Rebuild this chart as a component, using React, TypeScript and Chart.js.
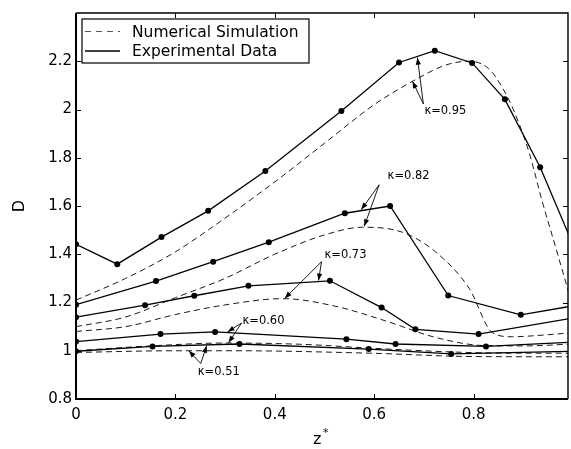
import React, { useEffect, useRef } from 'react';
import { Chart, registerables } from 'chart.js';

Chart.register(...registerables);

// ---- tick values ----
const xTicks = [0, 0.2, 0.4, 0.6, 0.8];
const yTicks = [0.8, 1, 1.2, 1.4, 1.6, 1.8, 2, 2.2];

// ---- experimental data (solid lines with dots) ----
const exp95X = [0, 0.083, 0.172, 0.266, 0.381, 0.534, 0.65, 0.722, 0.797, 0.863, 0.934, 1.0];
const exp95Y = [1.441, 1.359, 1.471, 1.58, 1.745, 1.994, 2.195, 2.244, 2.193, 2.042, 1.761, 1.44];

const exp82X = [0, 0.161, 0.276, 0.388, 0.541, 0.632, 0.749, 0.895, 1.0];
const exp82Y = [1.191, 1.289, 1.369, 1.45, 1.57, 1.6, 1.229, 1.149, 1.186];

const exp73X = [0, 0.139, 0.238, 0.347, 0.511, 0.615, 0.683, 0.81, 1.0];
const exp73Y = [1.139, 1.189, 1.228, 1.269, 1.29, 1.179, 1.089, 1.069, 1.136];

const exp60X = [0, 0.17, 0.28, 0.544, 0.643, 0.825, 1.0];
const exp60Y = [1.038, 1.069, 1.078, 1.048, 1.028, 1.018, 1.036];

const exp51X = [0, 0.154, 0.329, 0.589, 0.755, 1.0];
const exp51Y = [0.998, 1.018, 1.028, 1.007, 0.987, 0.998];

// ---- numerical simulation (dashed lines) ----
const num95X = [0, 0.1, 0.2, 0.3, 0.4, 0.5, 0.6, 0.68, 0.745, 0.79, 0.83, 0.858, 0.88, 0.912, 0.938, 0.965, 1.0];
const num95Y = [1.21, 1.3, 1.41, 1.55, 1.7, 1.86, 2.02, 2.12, 2.185, 2.2, 2.17, 2.09, 2.0, 1.82, 1.62, 1.43, 1.18];

const num82X = [0, 0.1, 0.2, 0.3, 0.4, 0.5, 0.577, 0.657, 0.724, 0.791, 0.838, 0.878, 0.94, 1.0];
const num82Y = [1.1, 1.14, 1.22, 1.3, 1.4, 1.48, 1.512, 1.491, 1.409, 1.259, 1.075, 1.058, 1.065, 1.075];

const num73X = [0, 0.1, 0.2, 0.3, 0.416, 0.523, 0.624, 0.724, 0.825, 0.9, 1.0];
const num73Y = [1.08, 1.1, 1.15, 1.19, 1.216, 1.184, 1.123, 1.055, 1.021, 1.02, 1.028];

const num60X = [0, 0.15, 0.3, 0.45, 0.6, 0.785, 0.9, 1.0];
const num60Y = [1.0, 1.02, 1.032, 1.027, 1.01, 0.993, 0.99, 0.99];

const num51X = [0, 0.2, 0.32, 0.59, 0.8, 1.0];
const num51Y = [0.993, 1.0, 1.0, 0.99, 0.976, 0.975];

// ---- annotations (data coordinates) ----
const annotLabels = ['κ=0.95', 'κ=0.82', 'κ=0.73', 'κ=0.60', 'κ=0.51'];
const annotTextPos = [[0.701, 1.994], [0.627, 1.724], [0.5, 1.397], [0.335, 1.123], [0.245, 0.91]];
const annotFrom = [[0.699, 2.023], [0.61, 1.688], [0.494, 1.369], [0.333, 1.115], [0.251, 0.947]];
const annotTips = [
  [[0.687, 2.215], [0.677, 2.117]],
  [[0.574, 1.585], [0.58, 1.516]],
  [[0.488, 1.291], [0.42, 1.217]],
  [[0.305, 1.078], [0.307, 1.033]],
  [[0.227, 1.0], [0.263, 1.021]],
];

const legendLabels = ['Numerical Simulation', 'Experimental Data'];

const FONT = 'DejaVu Sans';

const pts = (xs: number[], ys: number[]) => xs.map((x, i) => ({ x, y: ys[i] }));

const expDs = (xs: number[], ys: number[]) => ({
  data: pts(xs, ys),
  borderColor: '#000',
  backgroundColor: '#000',
  borderWidth: 1.3,
  pointRadius: 3,
  pointHoverRadius: 3,
  pointBorderWidth: 0,
  tension: 0,
  fill: false,
});

const numDs = (xs: number[], ys: number[]) => ({
  data: pts(xs, ys),
  borderColor: '#000',
  backgroundColor: '#000',
  borderWidth: 0.9,
  borderDash: [6, 4],
  pointRadius: 0,
  cubicInterpolationMode: 'monotone' as const,
  fill: false,
});

const overlay = {
  id: 'overlay',
  afterDatasetsDraw(chart: any) {
    const { ctx, chartArea: a, scales } = chart;
    const xs = scales.x;
    const ys = scales.y;
    ctx.save();
    ctx.strokeStyle = '#000';
    ctx.fillStyle = '#000';
    ctx.setLineDash([]);

    // frame
    ctx.lineWidth = 2;
    ctx.beginPath();
    ctx.moveTo(a.left, a.top);
    ctx.lineTo(a.left, a.bottom);
    ctx.lineTo(a.right, a.bottom);
    ctx.stroke();
    ctx.lineWidth = 1.4;
    ctx.beginPath();
    ctx.moveTo(a.left, a.top);
    ctx.lineTo(a.right, a.top);
    ctx.lineTo(a.right, a.bottom);
    ctx.stroke();

    // inward ticks
    ctx.lineWidth = 1;
    const tl = 5;
    ctx.beginPath();
    xTicks.forEach((v) => {
      const px = Math.round(xs.getPixelForValue(v)) + 0.5;
      ctx.moveTo(px, a.bottom);
      ctx.lineTo(px, a.bottom - tl);
      ctx.moveTo(px, a.top);
      ctx.lineTo(px, a.top + tl);
    });
    yTicks.forEach((v) => {
      const py = Math.round(ys.getPixelForValue(v)) + 0.5;
      ctx.moveTo(a.left, py);
      ctx.lineTo(a.left + tl, py);
      ctx.moveTo(a.right, py);
      ctx.lineTo(a.right - tl, py);
    });
    ctx.stroke();

    // annotations
    ctx.font = `11.5px "${FONT}"`;
    ctx.textAlign = 'left';
    ctx.textBaseline = 'middle';
    annotLabels.forEach((lab, i) => {
      const tx = xs.getPixelForValue(annotTextPos[i][0]);
      const ty = ys.getPixelForValue(annotTextPos[i][1]);
      ctx.fillText(lab, tx, ty);
      const fx = xs.getPixelForValue(annotFrom[i][0]);
      const fy = ys.getPixelForValue(annotFrom[i][1]);
      annotTips[i].forEach((tp) => {
        const px = xs.getPixelForValue(tp[0]);
        const py = ys.getPixelForValue(tp[1]);
        ctx.lineWidth = 0.9;
        ctx.beginPath();
        ctx.moveTo(fx, fy);
        ctx.lineTo(px, py);
        ctx.stroke();
        const ang = Math.atan2(py - fy, px - fx);
        const L = 7;
        const W = 2.6;
        const bx = px - L * Math.cos(ang);
        const by = py - L * Math.sin(ang);
        ctx.beginPath();
        ctx.moveTo(px, py);
        ctx.lineTo(bx - W * Math.sin(ang), by + W * Math.cos(ang));
        ctx.lineTo(bx + W * Math.sin(ang), by - W * Math.cos(ang));
        ctx.closePath();
        ctx.fill();
      });
    });

    // legend
    const lx = a.left + 6;
    const ly = a.top + 6;
    const lw = 227;
    const lh = 44;
    ctx.fillStyle = '#fff';
    ctx.fillRect(lx, ly, lw, lh);
    ctx.lineWidth = 1.2;
    ctx.strokeStyle = '#000';
    ctx.strokeRect(lx, ly, lw, lh);
    ctx.fillStyle = '#000';
    ctx.font = `15.5px "${FONT}"`;
    ctx.textBaseline = 'middle';
    const rows = [ly + 12.5, ly + 32];
    // dashed sample
    ctx.lineWidth = 1;
    ctx.strokeStyle = '#555';
    ctx.setLineDash([6, 5]);
    ctx.beginPath();
    ctx.moveTo(lx + 3, rows[0]);
    ctx.lineTo(lx + 38, rows[0]);
    ctx.stroke();
    ctx.setLineDash([]);
    ctx.strokeStyle = '#000';
    ctx.lineWidth = 1.3;
    ctx.beginPath();
    ctx.moveTo(lx + 3, rows[1]);
    ctx.lineTo(lx + 38, rows[1]);
    ctx.stroke();
    ctx.fillText(legendLabels[0], lx + 50, rows[0] + 1);
    ctx.fillText(legendLabels[1], lx + 50, rows[1] + 1);

    // axis titles
    ctx.font = `16px "${FONT}"`;
    ctx.textAlign = 'center';
    ctx.save();
    ctx.translate(20, (a.top + a.bottom) / 2);
    ctx.rotate(-Math.PI / 2);
    ctx.fillText('D', 0, 0);
    ctx.restore();
    const cx = 322;
    ctx.textAlign = 'left';
    ctx.textBaseline = 'alphabetic';
    ctx.fillText('z', cx - 9, 444);
    ctx.font = `11px "${FONT}"`;
    ctx.fillText('*', cx + 1, 436);

    ctx.restore();
  },
};

export default function App() {
  const ref = useRef<HTMLCanvasElement | null>(null);
  useEffect(() => {
    if (!ref.current) return;
    const fmt = (v: any) => String(+Number(v).toFixed(1));
    const chart = new Chart(ref.current, {
      type: 'line',
      data: {
        datasets: [
          numDs(num95X, num95Y),
          numDs(num82X, num82Y),
          numDs(num73X, num73Y),
          numDs(num60X, num60Y),
          numDs(num51X, num51Y),
          expDs(exp95X, exp95Y),
          expDs(exp82X, exp82Y),
          expDs(exp73X, exp73Y),
          expDs(exp60X, exp60Y),
          expDs(exp51X, exp51Y),
        ] as any,
      },
      options: {
        animation: false,
        responsive: false,
        devicePixelRatio: 1,
        events: [],
        layout: { padding: { top: 7, right: 0, left: 0, bottom: 0 } },
        plugins: { legend: { display: false }, tooltip: { enabled: false }, title: { display: false } },
        scales: {
          x: {
            type: 'linear',
            min: 0,
            max: 0.99,
            grid: { display: false, drawTicks: false },
            border: { display: false },
            afterBuildTicks: (s: any) => {
              s.ticks = xTicks.map((v) => ({ value: v }));
            },
            afterFit: (s: any) => {
              s.height = 50;
            },
            ticks: {
              color: '#000',
              font: { family: FONT, size: 15 },
              padding: 7,
              maxRotation: 0,
              autoSkip: false,
              callback: fmt,
            },
          },
          y: {
            type: 'linear',
            min: 0.8,
            max: 2.4,
            grid: { display: false, drawTicks: false },
            border: { display: false },
            afterBuildTicks: (s: any) => {
              s.ticks = yTicks.map((v) => ({ value: v }));
            },
            afterFit: (s: any) => {
              s.width = 76;
            },
            ticks: {
              color: '#000',
              font: { family: FONT, size: 15 },
              padding: 4,
              autoSkip: false,
              callback: fmt,
            },
          },
        },
      } as any,
      plugins: [overlay],
    });
    return () => chart.destroy();
  }, []);
  return (
    <div style={{ position: 'fixed', left: 0, top: 0, width: 571, height: 449, background: '#fff' }}>
      <canvas ref={ref} width={571} height={449} style={{ display: 'block' }} />
    </div>
  );
}
